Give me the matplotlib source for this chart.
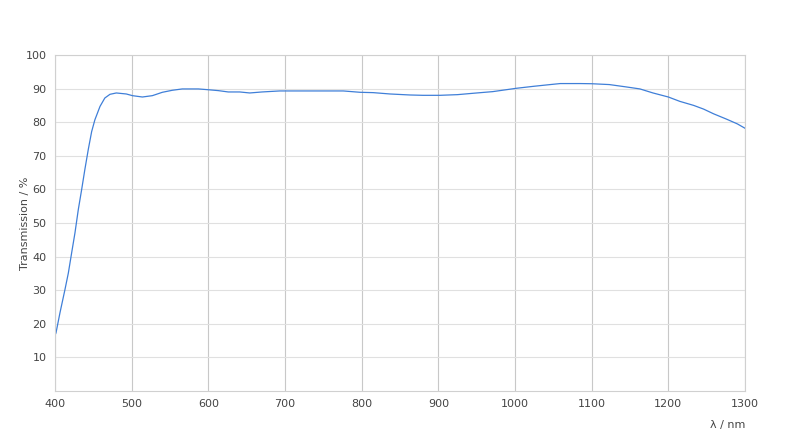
import matplotlib
matplotlib.use("Agg")
import matplotlib.pyplot as plt
import numpy as np

wavelength = [400, 401.3, 406.5, 413, 417.4, 421.7, 426, 430.4, 434.8, 439, 443.5,
              447.8, 452, 458.7, 465, 471.7, 480, 493, 501, 514, 527, 540, 553, 566,
              587, 598, 613, 626, 641, 654, 670, 693, 720, 750, 776, 798, 815, 837,
              863, 880, 902, 925, 945, 971, 1002, 1025, 1046, 1059, 1085, 1100, 1123,
              1145, 1163, 1180, 1200, 1215, 1233, 1246, 1259, 1276, 1290, 1300]
transmission = [16.6, 17.3, 23.3, 30.2, 35.1, 41.1, 47.0, 54.0, 60.0, 66.0, 72.0,
                77.2, 80.7, 84.7, 87.2, 88.3, 88.7, 88.4, 87.9, 87.5, 87.9, 88.9, 89.5,
                89.9, 89.9, 89.7, 89.4, 89.0, 89.0, 88.7, 89.0, 89.3, 89.3, 89.3, 89.3,
                88.9, 88.8, 88.4, 88.1, 88.0, 88.0, 88.2, 88.6, 89.1, 90.1, 90.7, 91.2,
                91.5, 91.5, 91.45, 91.2, 90.5, 89.9, 88.7, 87.5, 86.2, 85.0, 83.9, 82.5,
                80.9, 79.5, 78.2]
x_ticks = [400, 500, 600, 700, 800, 900, 1000, 1100, 1200, 1300]
y_ticks = [10, 20, 30, 40, 50, 60, 70, 80, 90, 100]

plt.rcParams['font.family'] = ['DejaVu Sans']
fig = plt.figure(figsize=(8, 4.46), dpi=100)
ax = fig.add_axes([55/800, 55/446, 690/800, 336/446])

ax.plot(wavelength, transmission, color='#3f7fd8', linewidth=0.9)
ax.set_xlim(400, 1300)
ax.set_ylim(0, 100)
ax.set_xticks(x_ticks)
ax.set_yticks(y_ticks)
ax.grid(axis='y', color='#e0e0e0', linewidth=0.8)
ax.grid(axis='x', color='#c8c8c8', linewidth=0.8)
ax.set_axisbelow(True)
for s in ax.spines.values():
    s.set_color('#d0d0d0')
    s.set_linewidth(0.8)
ax.tick_params(length=0, labelsize=8, labelcolor='#444444', pad=6)
ax.set_ylabel('Transmission / %', fontsize=8, color='#444444')
ax.yaxis.set_label_coords(-0.036, 0.5)
ax.set_xlabel('λ / nm', fontsize=8, color='#444444')
ax.xaxis.set_label_coords(1.0, -0.085)
ax.xaxis.label.set_horizontalalignment('right')

fig.savefig('out.png', dpi=100)
